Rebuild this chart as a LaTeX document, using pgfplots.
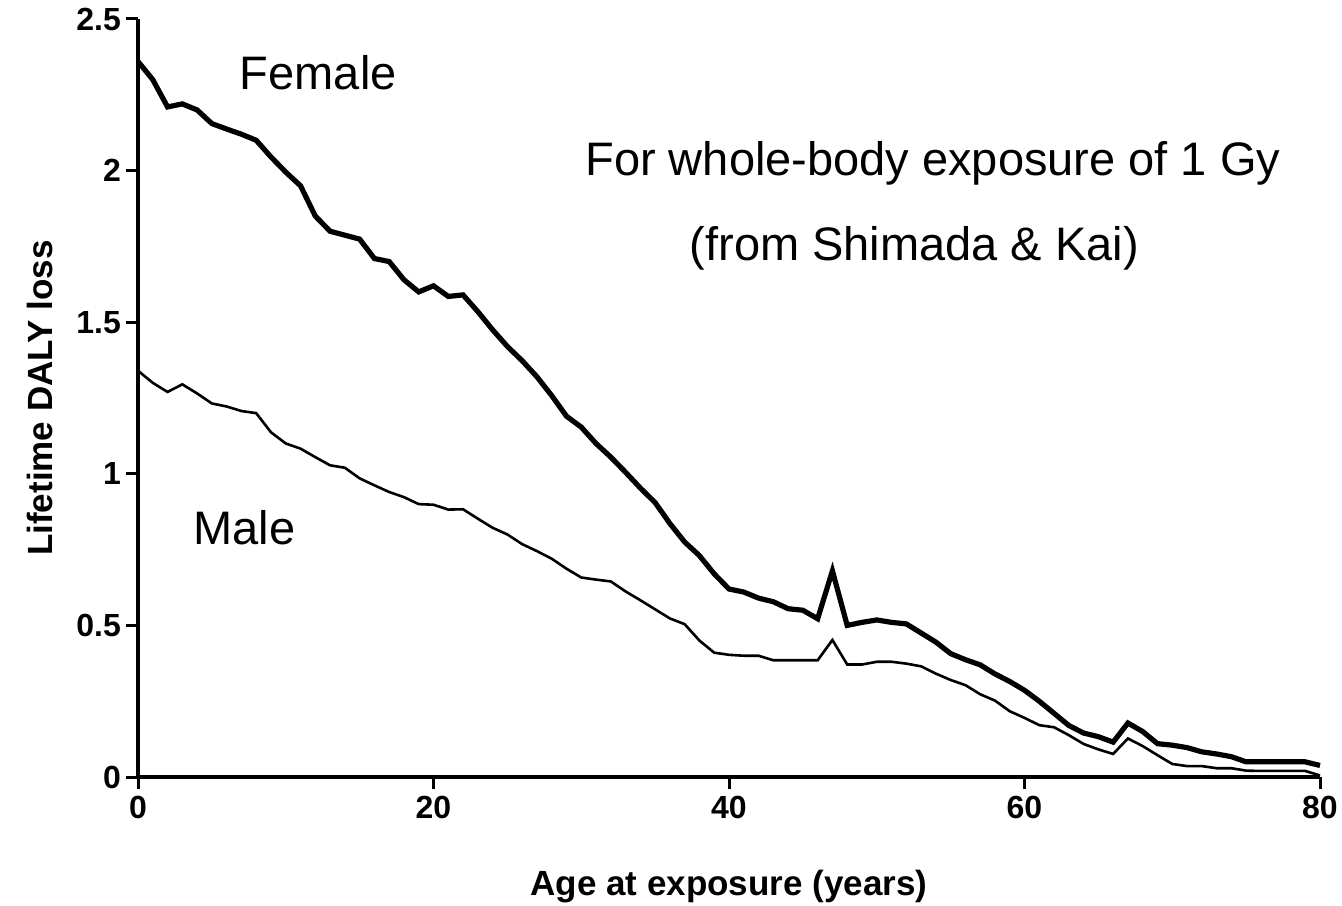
\documentclass[border=0pt]{standalone}
\usepackage{fontspec}
\setmainfont{Liberation Sans}
\usepackage{pgfplots}
\pgfplotsset{compat=1.18}
\usepackage{pgfplotstable}
\pgfplotstableread{
x y
0 2.36
1 2.30
2 2.21
3 2.22
4 2.20
5 2.155
6 2.137
7 2.12
8 2.10
9 2.045
10 1.995
11 1.95
12 1.85
13 1.80
14 1.787
15 1.774
16 1.71
17 1.70
18 1.64
19 1.60
20 1.62
21 1.585
22 1.59
23 1.535
24 1.475
25 1.42
26 1.373
27 1.32
28 1.258
29 1.19
30 1.154
31 1.10
32 1.055
33 1.005
34 0.953
35 0.905
36 0.836
37 0.775
38 0.73
39 0.67
40 0.62
41 0.61
42 0.59
43 0.578
44 0.555
45 0.55
46 0.522
47 0.68
48 0.50
49 0.51
50 0.518
51 0.51
52 0.505
53 0.475
54 0.445
55 0.407
56 0.387
57 0.37
58 0.34
59 0.315
60 0.286
61 0.25
62 0.21
63 0.17
64 0.145
65 0.133
66 0.115
67 0.178
68 0.15
69 0.11
70 0.105
71 0.097
72 0.083
73 0.076
74 0.067
75 0.05
76 0.05
77 0.05
78 0.05
79 0.05
80 0.038
}\female
\pgfplotstableread{
x y
0 1.34
1 1.30
2 1.27
3 1.295
4 1.265
5 1.232
6 1.222
7 1.207
8 1.20
9 1.137
10 1.10
11 1.083
12 1.055
13 1.028
14 1.02
15 0.985
16 0.962
17 0.94
18 0.923
19 0.90
20 0.898
21 0.882
22 0.883
23 0.852
24 0.822
25 0.80
26 0.768
27 0.745
28 0.72
29 0.687
30 0.658
31 0.651
32 0.645
33 0.612
34 0.583
35 0.553
36 0.523
37 0.504
38 0.45
39 0.41
40 0.403
41 0.40
42 0.40
43 0.385
44 0.385
45 0.385
46 0.385
47 0.452
48 0.371
49 0.371
50 0.38
51 0.38
52 0.374
53 0.365
54 0.341
55 0.32
56 0.303
57 0.273
58 0.252
59 0.217
60 0.195
61 0.171
62 0.164
63 0.138
64 0.109
65 0.091
66 0.076
67 0.127
68 0.102
69 0.072
70 0.043
71 0.036
72 0.036
73 0.029
74 0.029
75 0.021
76 0.02
77 0.02
78 0.02
79 0.02
80 0.005
}\male
\begin{document}
\begin{tikzpicture}
\useasboundingbox (0,0) rectangle (671pt,452.5pt);
\begin{axis}[
  at={(69pt,64pt)}, anchor=origin,
  scale only axis,
  width=591pt, height=379pt,
  xmin=0, xmax=80, ymin=0, ymax=2.5,
  axis x line*=bottom, axis y line*=left,
  axis line style={line width=1.8pt, -},
  tick align=outside,
  major tick length=6pt,
  tick style={line width=1.5pt, black},
  xtick={0,20,40,60,80},
  ytick={0,0.5,1,1.5,2,2.5},
  yticklabels={0,0.5,1,1.5,2,2.5},
  /pgf/number format/assume math mode=true,
  tick label style={font=\fontsize{16}{19}\selectfont\bfseries},
  yticklabel style={xshift=1pt},
  xlabel={Age at exposure (years)},
  ylabel={Lifetime DALY loss},
  label style={font=\fontsize{17.5}{21}\selectfont\bfseries},
  xlabel style={at={(axis description cs:0.5,-0.145)}, anchor=center},
  ylabel style={at={(axis description cs:-0.083,0.5)}, anchor=center, rotate=0},
  clip=false,
]
\addplot[black, line width=2.6pt, line join=miter] table[x=x,y=y] {\female};
\addplot[black, line width=1.3pt, line join=miter] table[x=x,y=y] {\male};
\node[anchor=base, font=\fontsize{23.5}{28}\selectfont] at (axis cs:12.2,2.266) {Female};
\node[anchor=base, font=\fontsize{23.5}{28}\selectfont] at (axis cs:7.2,0.767) {Male};
\node[anchor=base, font=\fontsize{23.5}{28}\selectfont] at (axis cs:53.8,1.985) {For whole-body exposure of 1 Gy};
\node[anchor=base, font=\fontsize{23.5}{28}\selectfont] at (axis cs:52.55,1.703) {(from Shimada \& Kai)};
\end{axis}
\end{tikzpicture}
\end{document}
